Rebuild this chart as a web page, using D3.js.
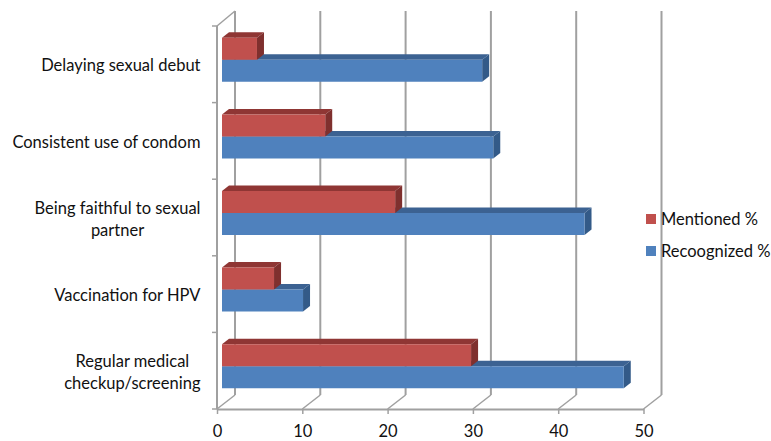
<!DOCTYPE html>
<html>
<head>
<meta charset="utf-8">
<script src="https://cdn.jsdelivr.net/npm/d3@7"></script>
<style>
  body { margin: 0; background: #fff; }
  text { font-family: Lato, "Open Sans", sans-serif; fill: #111; }
</style>
</head>
<body>
<div id="chart"></div>
<script>
const categories = [
  ['Delaying sexual debut'],
  ['Consistent use of condom'],
  ['Being faithful to sexual', 'partner'],
  ['Vaccination for HPV'],
  ['Regular medical', 'checkup/screening']
]
const mentioned = [4.1, 12.1, 20.3, 6.1, 29.2]
const recognized = [30.5, 31.8, 42.5, 9.5, 47.1]
const xTicks = [0, 10, 20, 30, 40, 50]
const legendLabels = ['Mentioned %', 'Recoognized %']

const width = 771
const height = 441
const fontSize = 16.5

const svg = d3.select('#chart')
  .append('svg')
  .attr('width', width)
  .attr('height', height)
  .attr('viewBox', [0, 0, width, height].join(' '))
  .style('display', 'block')

// front edge of the plot box, the back wall sits up and to the right of it
const x = d3.scaleLinear().domain([0, 50]).range([217, 643.5])
const y = d3.scaleBand().domain(d3.range(categories.length)).range([26, 409])
const wall = { dx: 18, dy: -14 }
const bar = { dx: 7, dy: -5.5, inset: 5, shiftY: -4.5, height: 22 }

const gridColor = '#a0a0a0'
const colors = {
  red: { front: '#c0504d', top: '#8f3634', side: '#7f302e' },
  blue: { front: '#4f81bd', top: '#3c6292', side: '#335a88' }
}

// walls and gridlines
const grid = svg.append('g').attr('fill', 'none').attr('stroke', gridColor)

grid.selectAll('line.back')
  .data(xTicks)
  .join('line')
  .attr('class', 'back')
  .attr('x1', d => x(d) + wall.dx)
  .attr('x2', d => x(d) + wall.dx)
  .attr('y1', y.range()[0] + wall.dy - 1)
  .attr('y2', y.range()[1] + wall.dy)
  .attr('stroke-width', 2)

grid.selectAll('line.floor')
  .data(xTicks)
  .join('line')
  .attr('class', 'floor')
  .attr('x1', d => x(d))
  .attr('x2', d => x(d) + wall.dx)
  .attr('y1', y.range()[1])
  .attr('y2', y.range()[1] + wall.dy)
  .attr('stroke-width', 1.5)

grid.append('line')
  .attr('x1', x(0))
  .attr('x2', x(0) + wall.dx)
  .attr('y1', y.range()[0])
  .attr('y2', y.range()[0] + wall.dy - 1)
  .attr('stroke-width', 1.5)

// value axis along the front of the floor
const xAxis = svg.append('g')
  .attr('transform', `translate(0,${y.range()[1]})`)
  .call(d3.axisBottom(x).tickValues(xTicks).tickSize(5).tickSizeOuter(0).tickPadding(11))
xAxis.selectAll('text').style('font-family', 'Lato').attr('font-size', fontSize).attr('fill', '#111')
xAxis.selectAll('line').attr('stroke', gridColor).attr('stroke-width', 1.5)
xAxis.select('.domain').attr('stroke', gridColor).attr('stroke-width', 2)

// category axis on the left front edge
const yTicks = d3.range(categories.length + 1).map(i => y.range()[0] + i * y.step())
svg.append('line')
  .attr('x1', x(0)).attr('x2', x(0))
  .attr('y1', y.range()[0]).attr('y2', y.range()[1])
  .attr('stroke', gridColor).attr('stroke-width', 2)
svg.selectAll('line.ytick')
  .data(yTicks)
  .join('line')
  .attr('class', 'ytick')
  .attr('x1', x(0) - 5).attr('x2', x(0))
  .attr('y1', d => d).attr('y2', d => d)
  .attr('stroke', gridColor).attr('stroke-width', 1.5)

// a bar is a front face with a top and a side face
const barFaces = (value, top, c) => {
  const x0 = x(0) + bar.inset
  const x1 = x0 + x(value) - x(0)
  const y1 = top + bar.height
  return [
    { fill: c.top, pts: [[x0, top], [x0 + bar.dx, top + bar.dy], [x1 + bar.dx, top + bar.dy], [x1, top]] },
    { fill: c.side, pts: [[x1, top], [x1 + bar.dx, top + bar.dy], [x1 + bar.dx, y1 + bar.dy], [x1, y1]] },
    { fill: c.front, pts: [[x0, top], [x1, top], [x1, y1], [x0, y1]] }
  ]
}

const bars = svg.append('g')
const drawSeries = (values, offset, c) => {
  bars.append('g')
    .selectAll('polygon')
    .data(values.flatMap((v, i) => {
      const mid = y(i) + y.bandwidth() / 2 + bar.shiftY
      return barFaces(v, mid + offset, c)
    }))
    .join('polygon')
    .attr('fill', d => d.fill)
    .attr('points', d => d.pts.join(' '))
}
drawSeries(recognized, 0, colors.blue)
drawSeries(mentioned, -bar.height, colors.red)

// category labels, lines centred on each other, block right aligned
const labels = svg.append('g')
  .selectAll('text')
  .data(categories)
  .join('text')
  .attr('font-size', fontSize)
  .attr('text-anchor', 'middle')

labels.each(function (lines, i) {
  const label = d3.select(this)
  const mid = y(i) + y.bandwidth() / 2
  const spans = label.selectAll('tspan')
    .data(lines)
    .join('tspan')
    .attr('y', (d, j) => mid + 7 + (j - (lines.length - 1) / 2) * 22)
    .text(d => d)
  const longest = d3.max(spans.nodes(), n => n.getComputedTextLength())
  spans.attr('x', 200.5 - longest / 2)
})

// legend
const legend = svg.append('g')
  .selectAll('g')
  .data(legendLabels)
  .join('g')
  .attr('transform', (d, i) => `translate(646,${214 + i * 32})`)
legend.append('rect')
  .attr('width', 10).attr('height', 10)
  .attr('fill', (d, i) => i === 0 ? colors.red.front : colors.blue.front)
legend.append('text')
  .attr('x', 15).attr('y', 11)
  .attr('font-size', fontSize)
  .text(d => d)
</script>
</body>
</html>
